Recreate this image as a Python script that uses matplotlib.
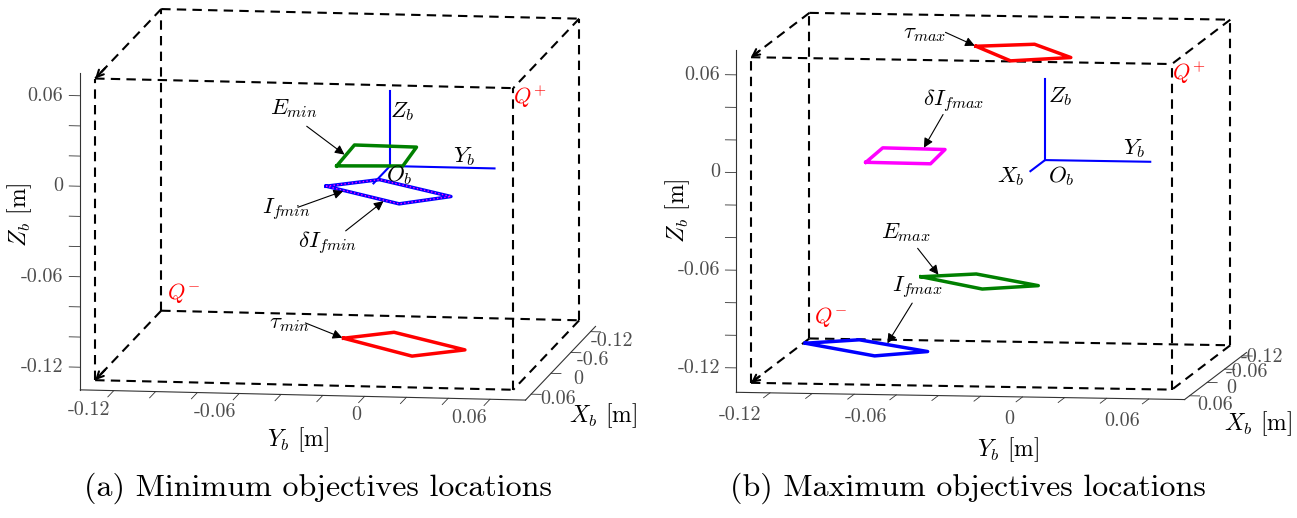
import numpy as np
import matplotlib
matplotlib.use("Agg")
import matplotlib.pyplot as plt
from matplotlib.patches import FancyArrowPatch
from matplotlib.transforms import IdentityTransform
from mpl_toolkits.mplot3d import proj3d

plt.rcParams["font.family"] = "cmr10"
plt.rcParams["mathtext.fontset"] = "cm"
plt.rcParams["axes.unicode_minus"] = False

# workspace corners Q- and Q+
q_minus = (-0.13, -0.13, -0.13)
q_plus = (0.07, 0.07, 0.07)

# axis limits / ticks (same for both panels)
x_lim = (-0.135, 0.077)
y_lim = (-0.136, 0.077)
z_lim = (-0.135, 0.075)
x_ticks = [-0.12, -0.06, 0, 0.06]
yz_ticks = [-0.12, -0.10, -0.08, -0.06, -0.04, -0.02, 0, 0.02, 0.04, 0.06]
yz_tick_labels = ["-0.12", "", "", "-0.06", "", "", "0", "", "", "0.06"]
x_tick_labels_a = ["-0.12", "-0.6", "0", "0.06"]
x_tick_labels_b = ["-0.12", "-0.06", "0", "0.06"]

# body frame axes length
axis_len = 0.05

# (a) minimum objectives, platform corners [m]
e_min_x = [0.003, -0.057, -0.055, -0.001]
e_min_y = [-0.025, -0.026, 0.004, 0.006]
e_min_z = 0.0
if_min_x = [-0.041, -0.063, -0.020, 0.004]
if_min_y = [-0.037, -0.015, 0.026, 0.005]
if_min_z = -0.024
dif_min_x = [-0.041, -0.063, -0.020, 0.004]
dif_min_y = [-0.037, -0.015, 0.026, 0.005]
dif_min_z = -0.024
tau_min_x = [-0.043, -0.063, -0.018, 0.003]
tau_min_y = [-0.029, -0.008, 0.033, 0.011]
tau_min_z = -0.125

# (b) maximum objectives, platform corners [m]
tau_max_x = [-0.052, -0.065, -0.009, 0.010]
tau_max_y = [-0.040, -0.014, 0.011, -0.015]
tau_max_z = 0.062
dif_max_x = [0.001, -0.064, -0.061, 0.003]
dif_max_y = [-0.085, -0.086, -0.056, -0.054]
dif_max_z = -0.003
e_max_x = [-0.044, -0.060, -0.013, 0.006]
e_max_y = [-0.065, -0.041, -0.005, -0.029]
e_max_z = -0.079
if_max_x = [-0.044, -0.063, -0.016, 0.007]
if_max_y = [-0.120, -0.097, -0.058, -0.080]
if_max_z = -0.121

W, H = 1297, 518
DPI = 100
fig = plt.figure(figsize=(W / DPI, H / DPI), dpi=DPI)
TICK_COLOR = "#4d4d4d"


def make_axes(rect, elev, azim, aspect, zoom):
    ax = fig.add_axes(rect, projection="3d", computed_zorder=False)
    ax.set_proj_type("ortho")
    ax.view_init(elev=elev, azim=azim)
    ax.set_xlim(x_lim)
    ax.set_ylim(y_lim)
    ax.set_zlim(z_lim)
    ax.set_box_aspect(aspect, zoom=zoom)
    ax.grid(False)
    ax.set_xticks([])
    ax.set_yticks([])
    ax.set_zticks([])
    for axis in (ax.xaxis, ax.yaxis, ax.zaxis):
        axis.set_pane_color((1, 1, 1, 0))
        axis.pane.set_edgecolor((1, 1, 1, 0))
        axis.line.set_color("#333333")
        axis.line.set_linewidth(0.8)
    return ax


def proj(ax, p):
    x2, y2, _ = proj3d.proj_transform(p[0], p[1], p[2], ax.get_proj())
    return x2, y2


def to_pixels(ax, p):
    return ax.transData.transform(proj(ax, p))


def arrow(head, tail, **style):
    fig.add_artist(FancyArrowPatch(tuple(tail), tuple(head),
                                   transform=IdentityTransform(), **style))


def label3d(ax, p, s, ha="left"):
    ax.annotate(s, xy=proj(ax, p), ha=ha, va="center", fontsize=16.5,
                annotation_clip=False)


def draw_ticks(ax, xlabels, z_len, y_len, x_len, z_off, y_off, x_offs):
    x1, y0, y1, z0 = x_lim[1], y_lim[0], y_lim[1], z_lim[0]
    kw = dict(color="#333333", lw=0.6, clip_on=False)
    lab = dict(textcoords="offset points", fontsize=14.5, color=TICK_COLOR,
               annotation_clip=False)
    for z, s in zip(yz_ticks, yz_tick_labels):
        ax.plot([x1, x1], [y0, y0 - z_len], [z, z], **kw)
        if s:
            ax.annotate(s, xy=proj(ax, (x1, y0, z)), xytext=z_off,
                        ha="right", va="center", **lab)
    for y, s in zip(yz_ticks, yz_tick_labels):
        ax.plot([x1, x1 + y_len], [y, y], [z0, z0], **kw)
        if s:
            ax.annotate(s, xy=proj(ax, (x1, y, z0)), xytext=y_off,
                        ha="right", va="center", **lab)
    for x, s, off in zip(x_ticks, xlabels, x_offs):
        ax.plot([x, x], [y1, y1 + x_len], [z0, z0], **kw)
        ax.annotate(s, xy=proj(ax, (x, y1, z0)), xytext=off,
                    ha="center", va="center", **lab)


def draw_box(ax):
    corners = [(x, y, z) for x in (q_minus[0], q_plus[0])
               for y in (q_minus[1], q_plus[1])
               for z in (q_minus[2], q_plus[2])]
    for i in range(8):
        for j in range(i + 1, 8):
            if sum(a != b for a, b in zip(corners[i], corners[j])) == 1:
                ax.plot(*zip(corners[i], corners[j]), color="k", lw=1.5,
                        dashes=(4.5, 3), clip_on=False)
    # small heads at the front-left corners
    for z in (q_minus[2], q_plus[2]):
        arrow(to_pixels(ax, (q_plus[0], q_minus[1], z)),
              to_pixels(ax, (q_plus[0] - 0.03, q_minus[1], z)),
              arrowstyle="->", color="k", lw=1.5, shrinkA=0, shrinkB=0,
              mutation_scale=12)


def draw_quad(ax, xs, ys, z, color, lw=2.5, ls="-"):
    ax.plot(xs + xs[:1], ys + ys[:1], [z] * 5, color=color, lw=lw, ls=ls,
            clip_on=False)


def draw_frame(ax):
    ax.plot([0, 0], [0, 0], [0, axis_len], color="b", lw=1.5)
    ax.plot([0, 0], [0, axis_len], [0, 0], color="b", lw=1.5)
    ax.plot([0, axis_len], [0, 0], [0, 0], color="b", lw=1.5)


def note(ax, label, target, text_off, tail_off):
    ax.annotate(label, xy=proj(ax, target), xytext=text_off,
                textcoords="offset points", ha="center", va="center",
                fontsize=16.5, annotation_clip=False)
    head = to_pixels(ax, target)
    tail = head + np.array(tail_off) * DPI / 72
    arrow(head, tail, arrowstyle="-|>", color="k", lw=0.8, shrinkA=0,
          shrinkB=1, mutation_scale=14)


def on_edge(xs, ys, z, i, j, t):
    return (xs[i] + t * (xs[j] - xs[i]), ys[i] + t * (ys[j] - ys[i]), z)


def q_labels(ax, minus_off):
    ax.annotate(r"$Q^{+}$", xy=proj(ax, q_plus), xytext=(0, 3),
                textcoords="offset points", ha="left", va="top",
                color="r", fontsize=16, annotation_clip=False)
    ax.annotate(r"$Q^{-}$", xy=proj(ax, q_minus), xytext=minus_off,
                textcoords="offset points", ha="left", va="bottom",
                color="r", fontsize=16, annotation_clip=False)


def fig_text(px, py, s, **kw):
    fig.text(px / W, 1 - py / H, s, **kw)


S = 460
# ---------------- (a) ----------------
axa = make_axes([101.7 / W, (H - 436.0) / H, S / W, S / H], 8.94, 8.4,
                (479, 450, 320.6), 1.5433)
draw_ticks(axa, x_tick_labels_a, 0.0053, 0.018, 0.0048,
           (-12.5, 0), (-2.2, -13.7),
           [(15.5, -6.7), (16.1, -5.4), (19.5, -4.1), (19.4, -3.5)])
draw_box(axa)
draw_frame(axa)
draw_quad(axa, e_min_x, e_min_y, e_min_z, "#008000")
draw_quad(axa, if_min_x, if_min_y, if_min_z, "b")
draw_quad(axa, dif_min_x, dif_min_y, dif_min_z, "#ff00ff", lw=1.0, ls=":")
draw_quad(axa, tau_min_x, tau_min_y, tau_min_z, "r")
label3d(axa, (0, 0, 0.036), r"$Z_b$")
label3d(axa, (0, 0.03, 0.007), r"$Y_b$")
label3d(axa, (0, -0.002, -0.006), r"$O_b$")
note(axa, r"$E_{min}$", on_edge(e_min_x, e_min_y, e_min_z, 0, 1, 0.5),
     (-37, 34), (-28, 21))
note(axa, r"$I_{fmin}$", on_edge(if_min_x, if_min_y, if_min_z, 0, 3, 0.25),
     (-42, -14), (-33.5, -12))
note(axa, r"$\delta I_{fmin}$", on_edge(if_min_x, if_min_y, if_min_z, 0, 3, 0.8),
     (-41, -31), (-28, -22))
note(axa, r"$\tau_{min}$", (tau_min_x[0], tau_min_y[0], tau_min_z),
     (-39, 10), (-27.5, 11))
q_labels(axa, (4, 4))

# ---------------- (b) ----------------
axb = make_axes([755.2 / W, (H - 437.7) / H, S / W, S / H], 6.36, 8.3,
                (429, 453, 344), 1.5035)
draw_ticks(axb, x_tick_labels_b, 0.0052, 0.022, 0.0048,
           (-11.5, 0), (-6.3, -15.8),
           [(14.3, -0.5), (15.9, -2.3), (17.7, -4.1), (18.3, -6.6)])
draw_box(axb)
draw_frame(axb)
draw_quad(axb, tau_max_x, tau_max_y, tau_max_z, "r")
draw_quad(axb, dif_max_x, dif_max_y, dif_max_z, "#ff00ff")
draw_quad(axb, e_max_x, e_max_y, e_max_z, "#008000")
draw_quad(axb, if_max_x, if_max_y, if_max_z, "b")
label3d(axb, (0, 0.0015, 0.039), r"$Z_b$")
label3d(axb, (0, 0.0372, 0.008), r"$Y_b$")
label3d(axb, (0, 0.0015, -0.010), r"$O_b$")
label3d(axb, (0.05, -0.0025, -0.0035), r"$X_b$", ha="right")
note(axb, r"$\tau_{max}$", (tau_max_x[0], tau_max_y[0], tau_max_z),
     (-37, 9), (-22, 10))
note(axb, r"$\delta I_{fmax}$", on_edge(dif_max_x, dif_max_y, dif_max_z, 1, 2, 0.65),
     (22, 34), (14.3, 24.8))
note(axb, r"$E_{max}$", on_edge(e_max_x, e_max_y, e_max_z, 0, 1, 0.33),
     (-24, 31), (-15.6, 19.8))
note(axb, r"$I_{fmax}$", on_edge(if_max_x, if_max_y, if_max_z, 1, 2, 0.4),
     (22, 41), (18.4, 29.8))
q_labels(axb, (3, 7))

# axis labels and captions
fig_text(20, 215, r"$Z_b$ [m]", rotation=90, ha="center", va="center", fontsize=17)
fig_text(298, 440, r"$Y_b$ [m]", ha="center", va="center", fontsize=17)
fig_text(603, 416, r"$X_b$ [m]", ha="center", va="center", fontsize=17)
fig_text(678, 211, r"$Z_b$ [m]", rotation=90, ha="center", va="center", fontsize=17)
fig_text(1008, 450, r"$Y_b$ [m]", ha="center", va="center", fontsize=17)
fig_text(1258, 424, r"$X_b$ [m]", ha="center", va="center", fontsize=17)
fig_text(318, 488, "(a) Minimum objectives locations", ha="center", va="center", fontsize=23)
fig_text(968, 488, "(b) Maximum objectives locations", ha="center", va="center", fontsize=23)

fig.savefig("out.png", dpi=DPI)
